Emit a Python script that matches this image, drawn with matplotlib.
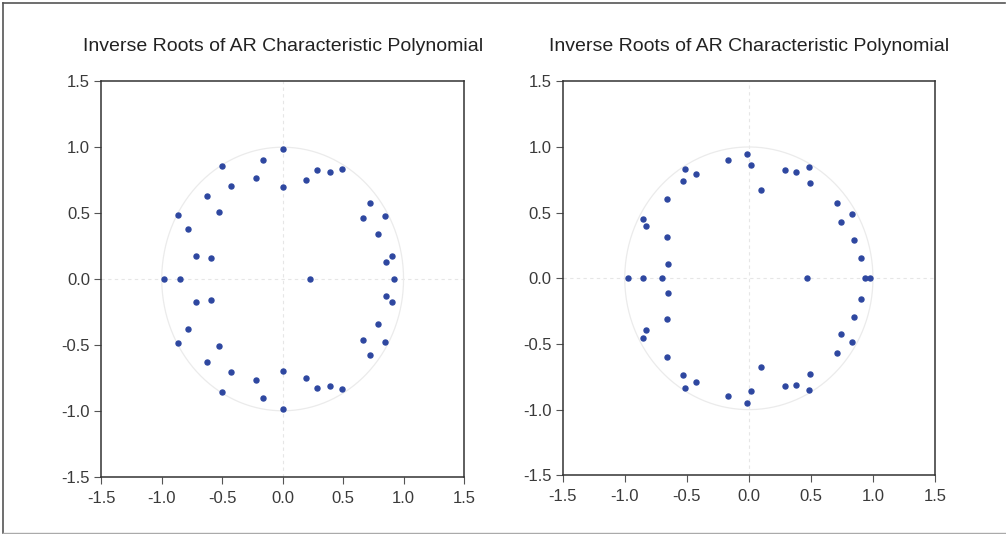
import matplotlib
matplotlib.use("Agg")
import matplotlib.pyplot as plt
import numpy as np
from matplotlib.lines import Line2D

plt.rcParams['font.family'] = ['Liberation Sans', 'DejaVu Sans']

title_text = "Inverse Roots of AR Characteristic Polynomial"
tick_vals = [-1.5, -1.0, -0.5, 0.0, 0.5, 1.0, 1.5]
tick_labels = ["-1.5", "-1.0", "-0.5", "0.0", "0.5", "1.0", "1.5"]

# Left panel inverse roots (real part, imaginary part)
left_re = [0.00, -0.16, -0.50, -0.22, -0.43, 0.00, 0.195, 0.286, 0.389, 0.49,
           -0.626, -0.524, -0.863, -0.78, -0.717, -0.59, 0.725, 0.667, 0.846, 0.791,
           0.907, 0.852,
           -0.98, -0.85, 0.226, 0.918,
           0.00, -0.16, -0.50, -0.22, -0.43, 0.00, 0.195, 0.286, 0.389, 0.49,
           -0.626, -0.524, -0.863, -0.78, -0.717, -0.59, 0.725, 0.667, 0.846, 0.791,
           0.907, 0.852]
left_im = [0.99, 0.904, 0.854, 0.768, 0.709, 0.70, 0.75, 0.826, 0.813, 0.838,
           0.626, 0.505, 0.485, 0.379, 0.178, 0.156, 0.573, 0.462, 0.477, 0.345,
           0.171, 0.128,
           0.0, 0.0, 0.0, 0.0,
           -0.99, -0.904, -0.854, -0.768, -0.709, -0.70, -0.75, -0.826, -0.813, -0.838,
           -0.626, -0.505, -0.485, -0.379, -0.178, -0.156, -0.573, -0.462, -0.477, -0.345,
           -0.171, -0.128]

# Right panel inverse roots (real part, imaginary part)
right_re = [-0.016, -0.164, 0.019, -0.516, -0.427, -0.529, 0.094, 0.29, 0.381, 0.486,
            0.489, -0.658, -0.852, -0.828, -0.661, -0.65, 0.714, 0.83, 0.744, 0.846,
            0.905,
            -0.975, -0.849, -0.701, 0.467, 0.935, 0.977,
            -0.016, -0.164, 0.019, -0.516, -0.427, -0.529, 0.094, 0.29, 0.381, 0.486,
            0.489, -0.658, -0.852, -0.828, -0.661, -0.65, 0.714, 0.83, 0.744, 0.846,
            0.905]
right_im = [0.948, 0.899, 0.861, 0.836, 0.793, 0.739, 0.676, 0.823, 0.813, 0.851,
            0.727, 0.602, 0.453, 0.397, 0.311, 0.11, 0.572, 0.486, 0.425, 0.295,
            0.158,
            0.0, 0.0, 0.0, 0.0, 0.0, 0.0,
            -0.948, -0.899, -0.861, -0.836, -0.793, -0.739, -0.676, -0.823, -0.813, -0.851,
            -0.727, -0.602, -0.453, -0.397, -0.311, -0.11, -0.572, -0.486, -0.425, -0.295,
            -0.158]

W, H = 1006, 534
fig = plt.figure(figsize=(W / 100, H / 100), dpi=100)

ax_l = fig.add_axes([101.3 / W, 1 - 476.7 / H, (464.0 - 101.3) / W, (476.7 - 81.3) / H])
ax_r = fig.add_axes([562.7 / W, 1 - 475.3 / H, (935.0 - 562.7) / W, (475.3 - 81.3) / H])

point_color = "#2E47A0"
theta = np.linspace(0, 2 * np.pi, 400)

for ax, xs, ys in [(ax_l, left_re, left_im), (ax_r, right_re, right_im)]:
    ax.set_xlim(-1.5, 1.5)
    ax.set_ylim(-1.5, 1.5)
    ax.axhline(0, color="#e6e6e6", lw=0.8, ls=(0, (3, 3)), zorder=1)
    ax.axvline(0, color="#e6e6e6", lw=0.8, ls=(0, (3, 3)), zorder=1)
    ax.plot(np.cos(theta), np.sin(theta), color="#ebebeb", lw=0.9, zorder=1)
    ax.plot(xs, ys, "o", color=point_color, ms=3.6, mec=point_color, zorder=3)
    ax.set_xticks(tick_vals)
    ax.set_xticklabels(tick_labels)
    ax.set_yticks(tick_vals)
    ax.set_yticklabels(tick_labels)
    ax.tick_params(direction="out", length=5, width=0.8, color="#555555",
                   labelcolor="#3a3a3a", labelsize=12, pad=3,
                   top=False, right=False)
    ax.tick_params(axis="x", pad=5)
    for s in ax.spines.values():
        s.set_color("#333333")
        s.set_linewidth(1.1)
    ax.set_title(title_text, fontsize=14, color="#222222", pad=22)

# figure border
fig.add_artist(Line2D([3 / W, 1005 / W], [1 - 2.5 / H, 1 - 2.5 / H], color="#555555", lw=1.2))
fig.add_artist(Line2D([3 / W, 3 / W], [1 - 2.5 / H, 1 - 533 / H], color="#555555", lw=1.2))
fig.add_artist(Line2D([3 / W, 1005 / W], [1 - 533 / H, 1 - 533 / H], color="#aaaaaa", lw=1.0))

fig.savefig("out.png", dpi=100)
